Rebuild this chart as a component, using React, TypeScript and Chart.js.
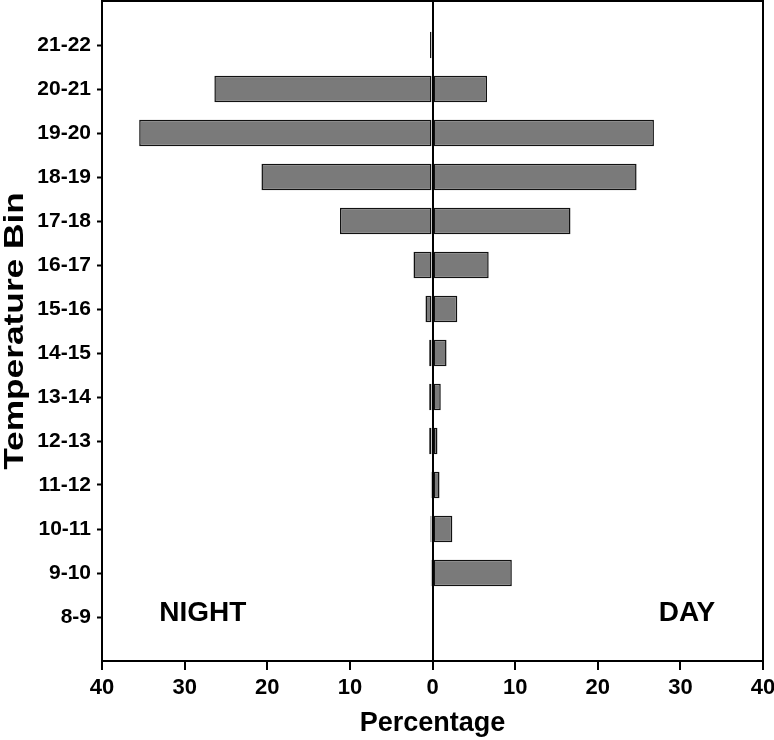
import React, { useEffect, useRef } from 'react';
import { Chart, registerables } from 'chart.js';
Chart.register(...registerables);

const bins = ['21-22', '20-21', '19-20', '18-19', '17-18', '16-17', '15-16', '14-15', '13-14', '12-13', '11-12', '10-11', '9-10', '8-9'];
const nightPct = [0.3, 26.4, 35.5, 20.7, 11.2, 2.3, 0.85, 0.4, 0.4, 0.4, 0.2, 0.25, 0.2, null];
const dayPct = [null, 6.6, 26.8, 24.7, 16.7, 6.8, 3.0, 1.7, 1.0, 0.6, 0.85, 2.4, 9.6, null];
const xMin = -40;
const xMax = 40;
const xStep = 10;
const yTitle = 'Temperature Bin';
const xTitle = 'Percentage';

const FONT = '"Liberation Sans", Arial, sans-serif';

const framePlugin = {
  id: 'frame',
  afterDraw(chart: any) {
    const { ctx, chartArea } = chart;
    const xs = chart.scales.x;
    const ys = chart.scales.y;
    ctx.save();
    ctx.strokeStyle = '#000';
    ctx.lineWidth = 2;
    ctx.beginPath();
    ctx.moveTo(chartArea.left, chartArea.top);
    ctx.lineTo(chartArea.right, chartArea.top);
    ctx.lineTo(chartArea.right, chartArea.bottom);
    ctx.stroke();
    ctx.fillStyle = '#000';
    ctx.font = `bold 28px ${FONT}`;
    ctx.textAlign = 'center';
    ctx.textBaseline = 'middle';
    const yText = ys.getPixelForValue(bins.length) - 4;
    ctx.fillText('NIGHT', xs.getPixelForValue(-27.8), yText);
    ctx.fillText('DAY', xs.getPixelForValue(30.8), yText);
    // y axis title (stretched along its length like the reference)
    ctx.translate(15, (chartArea.top + chartArea.bottom) / 2);
    ctx.rotate(-Math.PI / 2);
    ctx.scale(1.26, 1);
    ctx.font = `bold 28px ${FONT}`;
    ctx.fillText(yTitle, 0, 0);
    ctx.restore();
  },
};

export default function App() {
  const ref = useRef<HTMLCanvasElement>(null);
  useEffect(() => {
    document.body.style.margin = '0';
    const labels = ['', ...bins, ''];
    const nightData = [null, ...nightPct.map((v) => (v == null ? null : -v)), null];
    const dayData = [null, ...dayPct, null];
    const barStyle = {
      backgroundColor: '#7a7a7a',
      borderColor: '#111',
      borderWidth: 1.5,
      borderSkipped: false,
      barPercentage: 0.6,
      categoryPercentage: 1,
    };
    const chart = new Chart(ref.current!, {
      type: 'bar',
      data: {
        labels,
        datasets: [
          { label: 'Night', data: nightData as any, ...barStyle } as any,
          { label: 'Day', data: dayData as any, ...barStyle } as any,
        ],
      },
      options: {
        indexAxis: 'y',
        animation: false,
        responsive: false,
        maintainAspectRatio: false,
        layout: { padding: { top: 1, right: 11, left: 0, bottom: 0 } },
        plugins: { legend: { display: false }, tooltip: { enabled: false } },
        scales: {
          x: {
            type: 'linear',
            stacked: true,
            min: xMin,
            max: xMax,
            ticks: {
              stepSize: xStep,
              color: '#000',
              font: { family: FONT, size: 22, weight: 'bold' },
              padding: 5,
              callback: (v: any) => String(Math.abs(Number(v))),
            },
            grid: {
              drawOnChartArea: true,
              color: (c: any) => (c.tick && c.tick.value === 0 ? '#000' : 'rgba(0,0,0,0)'),
              lineWidth: 2,
              tickColor: '#000',
              tickLength: 9,
              tickWidth: 2,
            },
            border: { display: true, color: '#000', width: 2 },
            title: {
              display: true,
              text: xTitle,
              color: '#000',
              font: { family: FONT, size: 27, weight: 'bold' },
              padding: { top: 3, bottom: 0 },
            },
            afterFit: (s: any) => {
              s.height = 79;
              s.paddingLeft = 0;
              s.paddingRight = 0;
            },
          },
          y: {
            type: 'category',
            stacked: true,
            offset: false,
            ticks: {
              color: '#000',
              font: { family: FONT, size: 21, weight: 'bold' },
              padding: 6,
              autoSkip: false,
            },
            grid: {
              offset: false,
              drawOnChartArea: false,
              tickColor: (c: any) => (c.index === 0 || c.index === bins.length + 1 ? 'rgba(0,0,0,0)' : '#000'),
              tickLength: 5,
              tickWidth: 2,
            },
            border: { display: true, color: '#000', width: 2 },
            title: { display: false },
            afterFit: (s: any) => {
              s.width = 102;
              s.paddingTop = 0;
              s.paddingBottom = 0;
            },
          },
        },
      },
      plugins: [framePlugin],
    });
    return () => chart.destroy();
  }, []);
  return <canvas ref={ref} width={774} height={740} style={{ display: 'block' }} />;
}
